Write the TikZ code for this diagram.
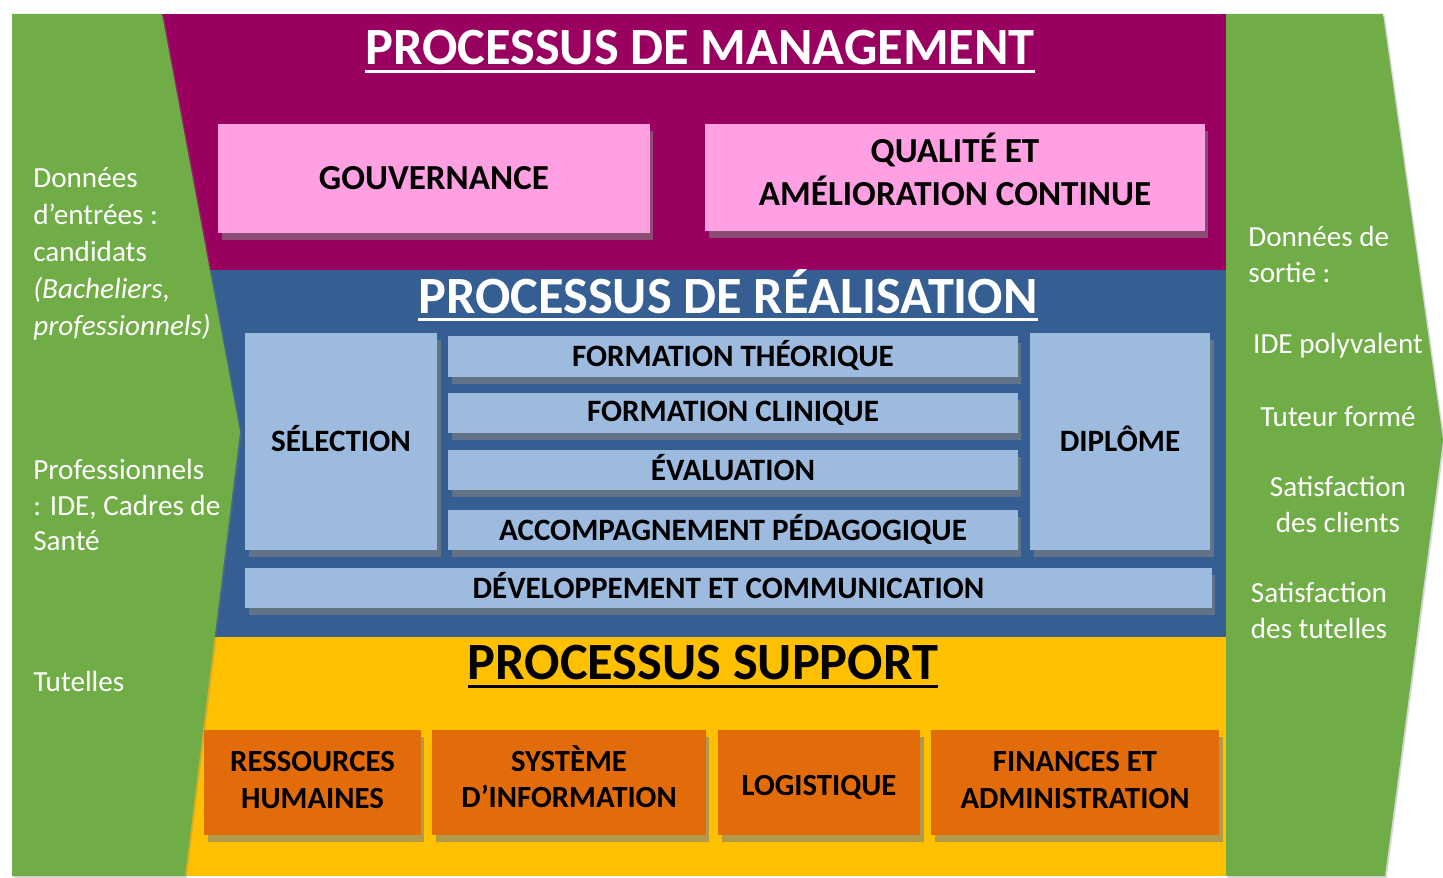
\documentclass[tikz,border=0pt]{standalone}
\usepackage{fontspec}
\setmainfont{Carlito}
\usepackage{xcolor}
\usetikzlibrary{shadows}

\definecolor{vert}{HTML}{70AD47}
\definecolor{prune}{HTML}{99005F}
\definecolor{bleufonce}{HTML}{355E92}
\definecolor{jaune}{HTML}{FFC000}
\definecolor{rose}{HTML}{FFA0E2}
\definecolor{bleuclair}{HTML}{9DBADF}
\definecolor{orange}{HTML}{E36C0A}

% accents sans effet sur la hauteur
\newcommand{\plat}[1]{\vphantom{A}\smash{#1}}
% profondeur en plus (texte remonte)
\newcommand{\creux}[1]{\rule[-#1]{0pt}{#1}}

\tikzset{
  boite/.style={inner sep=2pt, align=center, text=black,
    drop shadow={opacity=0.6, shadow xshift=2pt, shadow yshift=-4pt}},
  titre/.style={inner sep=0pt, font=\fontsize{29.8}{34}\selectfont\bfseries},
  texteg/.style={inner sep=0pt, text=white, align=left, font=\fontsize{16.6}{21}\selectfont},
  texted/.style={inner sep=0pt, text=white, align=center, font=\fontsize{16.6}{20.5}\selectfont},
}

\begin{document}
\begin{tikzpicture}[x=0.02cm,y=-0.02cm]
\useasboundingbox (0,0) rectangle (1443,878);
\fill[white] (0,0) rectangle (1443,878);

% bandes
\fill[prune] (150,14) rectangle (1226,270);
\fill[bleufonce] (150,270) rectangle (1226,637);
\fill[jaune] (150,637) rectangle (1226,876);

% fleches vertes
\fill[vert, drop shadow={opacity=0.3, shadow xshift=1pt, shadow yshift=-1pt}]
  (12,14) -- (162,14) -- (240,432) -- (185,876) -- (12,876) -- cycle;
\fill[vert, drop shadow={opacity=0.3, shadow xshift=1pt, shadow yshift=-1pt}]
  (1226,14) -- (1383,14) -- (1443,440) -- (1385,876) -- (1226,876) -- cycle;

% management
\node[titre, text=white] (mgt) at (700,48) {PROCESSUS DE MANAGEMENT};
\draw[white, line width=1.7pt] ([yshift=-3.5pt]mgt.base west) -- ([yshift=-3.5pt]mgt.base east);
\node[boite, fill=rose, minimum width=8.64cm, minimum height=2.18cm,
  font=\fontsize{20}{24}\selectfont\bfseries] (gouv) at (434,178.5) {GOUVERNANCE};
\node[boite, fill=rose, minimum width=10cm, minimum height=2.14cm,
  font=\fontsize{20}{24}\selectfont\bfseries] (qual) at (955,177.5) {\plat{QUALITÉ ET}\\\plat{AMÉLIORATION CONTINUE}\creux{5.6pt}};

% realisation
\node[titre, text=white] (real) at (728,292) {PROCESSUS DE RÉALISATION};
\draw[white, line width=1.7pt] ([yshift=-3.5pt]real.base west) -- ([yshift=-3.5pt]real.base east);
\tikzset{bleu/.style={boite, fill=bleuclair, font=\fontsize{17.7}{20}\selectfont\bfseries}}
\node[bleu, minimum width=3.84cm, minimum height=4.34cm] (sel) at (341,441.5) {\plat{SÉLECTION}};
\node[bleu, minimum width=11.4cm, minimum height=0.82cm] (theo) at (733,356.5) {\plat{FORMATION THÉORIQUE}};
\node[bleu, minimum width=11.4cm, minimum height=0.8cm] (clin) at (733,413) {FORMATION CLINIQUE};
\node[bleu, minimum width=11.4cm, minimum height=0.8cm] (eval) at (733,470) {\plat{ÉVALUATION}};
\node[bleu, minimum width=11.4cm, minimum height=0.8cm] (acc) at (733,530) {\plat{ACCOMPAGNEMENT PÉDAGOGIQUE}};
\node[bleu, minimum width=3.6cm, minimum height=4.34cm] (dipl) at (1120,441.5) {\plat{DIPLÔME}};
\node[bleu, minimum width=19.34cm, minimum height=0.8cm] (dev) at (728.5,588) {\plat{DÉVELOPPEMENT ET COMMUNICATION}};

% support
\node[titre, text=black] (supp) at (703,663) {PROCESSUS SUPPORT};
\draw[black, line width=1.7pt] ([yshift=-3.5pt]supp.base west) -- ([yshift=-3.5pt]supp.base east);
\tikzset{orng/.style={boite, fill=orange, minimum height=2.1cm, font=\fontsize{17.5}{21}\selectfont\bfseries}}
\node[orng, minimum width=4.34cm] (rh) at (312.5,782.5) {RESSOURCES\\HUMAINES\creux{3.4pt}};
\node[orng, minimum width=5.48cm] (si) at (569,782.5) {\plat{SYSTÈME}\\D’INFORMATION\creux{3.4pt}};
\node[orng, minimum width=4.04cm] (log) at (819,782.5) {LOGISTIQUE\rule{0pt}{17pt}};
\node[orng, minimum width=5.76cm] (fin) at (1075,782.5) {FINANCES ET\\ADMINISTRATION\creux{3.4pt}};

% entrees
\node[texteg, anchor=west] (entree) at (33,254) {Données\\d’entrées :\\candidats\\\textit{(Bacheliers,}\\\textit{professionnels)}};
\node[texteg, anchor=west, font=\fontsize{16.6}{20}\selectfont] (pros) at (33,505) {Professionnels\\: IDE, Cadres de\\Santé};
\node[texteg, anchor=west] (tut) at (33,681) {Tutelles};

% sorties
\node[texteg, anchor=west] (sortie) at (1248,254.5) {Données de\\sortie :};
\node[texted] (ide) at (1338,346) {IDE polyvalent};
\node[texted] (tuteur) at (1338,417) {Tuteur formé};
\node[texted] (clients) at (1338,505) {Satisfaction\\des clients};
\node[texted] (tutelles) at (1319,611) {Satisfaction\\des tutelles};
\end{tikzpicture}
\end{document}
